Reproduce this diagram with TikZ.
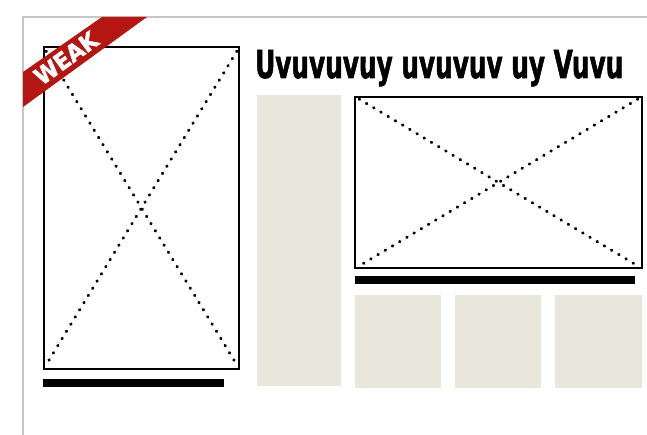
\documentclass[tikz,border=0pt]{standalone}
\usepackage{fontspec}
\setmainfont{Liberation Sans}
\newfontfamily\headfont{DejaVu Sans}[BoldFeatures={FakeBold=2}]
\usepackage{xcolor}
\usepackage{tikz}
\usetikzlibrary{arrows.meta}

\definecolor{paper}{RGB}{233,231,219}
\definecolor{bandred}{RGB}{180,22,18}

\begin{document}
\begin{tikzpicture}[x=1pt, y=-1pt,
  imgbox/.style={draw, line width=2pt, inner sep=0pt},
  panel/.style={fill=paper, inner sep=0pt},
  rulebar/.style={fill=black, inner sep=0pt},
  dots/.style={line width=3pt, line cap=round, dash pattern=on 0.6pt off 7.8pt,
               shorten <=6pt, shorten >=6pt},
  frame/.style={draw=gray!45, line width=1.3pt}]

\useasboundingbox[fill=white] (0,0) rectangle (647,435);

% page frame
\draw[frame] (647,17) -- (23,17) -- (23,435);

% left picture and its rule
\node[imgbox, minimum width=195pt, minimum height=322pt] (leftimg) at (141.5,208) {};
\draw[dots] (leftimg.north west) -- (leftimg.south east);
\draw[dots] (leftimg.north east) -- (leftimg.south west);
\node[rulebar, minimum width=181pt, minimum height=8pt] (leftbar) at (133.5,382.5) {};

% headline
\node[anchor=base west, inner sep=0pt] (head) at (255,78)
  {\resizebox{368pt}{28pt}{\headfont\bfseries Uvuvuvuy uvuvuv uy Vuvu}};

% text column
\node[panel, minimum width=84pt, minimum height=291pt] (col) at (299,240.5) {};

% right picture and its rule
\node[imgbox, minimum width=287pt, minimum height=171pt] (rightimg) at (498.5,182.5) {};
\draw[dots] (rightimg.north west) -- (rightimg.south east);
\draw[dots] (rightimg.north east) -- (rightimg.south west);
\node[rulebar, minimum width=280pt, minimum height=8pt] (rightbar) at (495,280.5) {};

% small blocks
\node[panel, minimum width=86pt, minimum height=93pt] (sqa) at (398,341.5) {};
\node[panel, minimum width=86pt, minimum height=93pt] (sqb) at (498,341.5) {};
\node[panel, minimum width=87pt, minimum height=93pt] (sqc) at (598.5,341.5) {};

% corner band
\fill[bandred] (102,17) -- (147,17) -- (23,107) -- (23,72) -- cycle;
\node[rotate=36, text=white, inner sep=0pt] (weak) at (66,58)
  {\resizebox{72pt}{17pt}{\headfont\bfseries WEAK}};
\end{tikzpicture}
\end{document}
